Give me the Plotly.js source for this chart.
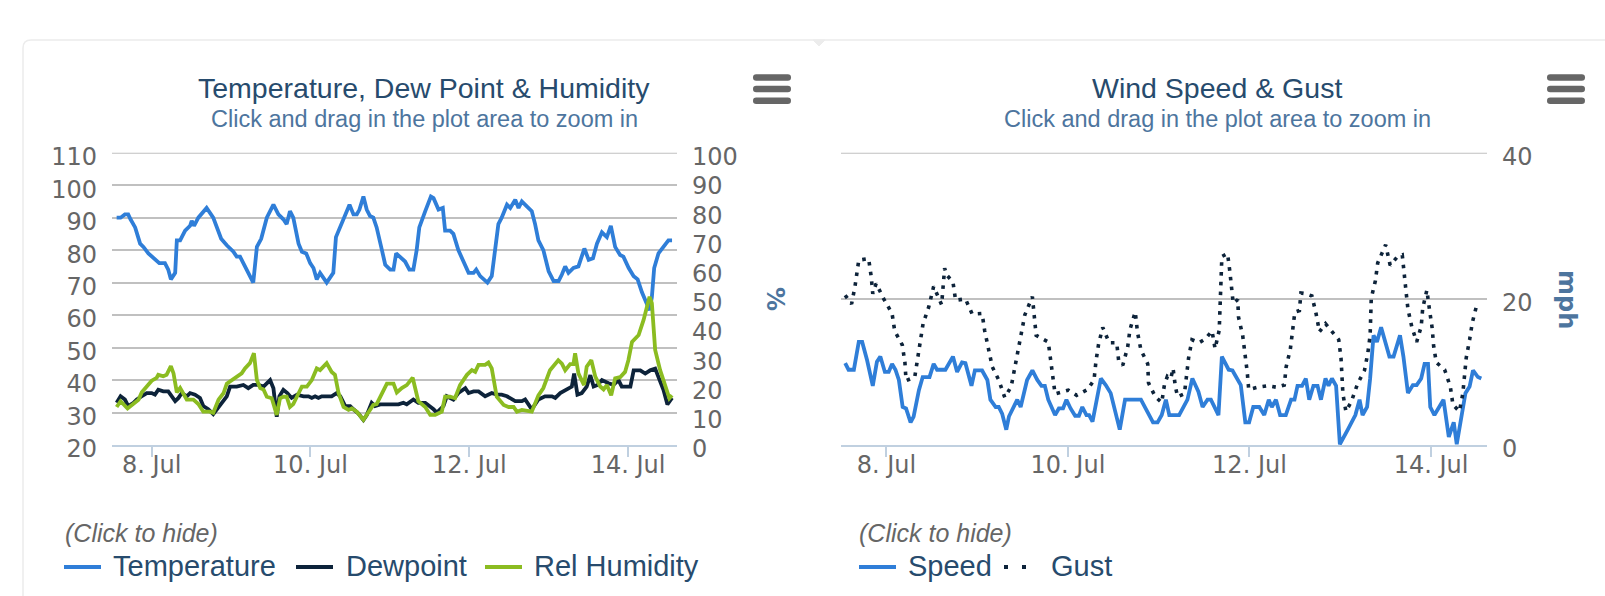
<!DOCTYPE html>
<html>
<head>
<meta charset="utf-8">
<script src="https://cdn.plot.ly/plotly-3.0.1.min.js"></script>
<style>
html,body{margin:0;padding:0;background:#fff;}
#chart{width:1605px;height:596px;}
</style>
</head>
<body>
<div id="chart"></div>
<script>
// ---- data (hours after 8 Jul 00:00) ----
const tempHours = [-10.6,-9.4,-8.1,-7.1,-6.4,-5.0,-3.5,-2.5,-1.0,1.0,2.3,4.0,5.0,5.8,7.1,7.6,8.6,10.1,11.6,12.1,12.8,14.1,16.6,18.6,19.7,21.0,22.7,24.7,25.7,26.7,28.2,29.7,30.7,31.8,33.1,34.8,36.8,38.3,39.8,40.8,41.8,42.8,44.4,45.4,46.7,47.9,48.9,49.9,50.9,52.9,54.9,55.7,57.0,58.0,59.8,61.0,62.0,62.8,64.0,65.0,66.0,67.0,68.0,69.6,70.6,72.1,73.1,73.9,75.1,76.6,77.9,79.1,80.1,80.9,82.7,84.4,85.2,86.7,88.0,88.7,90.2,91.2,92.7,94.3,95.8,97.3,98.1,99.3,101.5,102.8,104.8,105.8,107.4,108.4,109.9,110.9,111.9,113.4,114.9,115.9,116.9,118.4,120.0,121.5,123.0,124.0,125.0,126.0,127.5,129.0,130.0,130.8,132.1,133.4,134.6,136.1,137.6,138.8,140.1,141.6,142.6,144.2,145.7,146.9,148.2,149.7,150.5,151.2,151.9,153.2,154.7,156.2,157.3];
const tempValues = [90,90,91,91,89.5,87,82,81,79,77,76,76,74,71,73,83,83,86,87.5,89,87.5,90,93,90,87,83.5,81.5,79.5,78,78,75,72,70,81,83.5,90,94,91,89.5,88,92,90,82,79.5,79,76,74.5,71,73,70,73,84,87,90,94,91,91,92.5,96.5,92.5,90.5,90,87,80,75.5,74,74,79,78,76.5,74,74,80,87,92,96.5,96,92.5,93,86,86,85,80,76.5,73,73,74,72,70,72,88,90,94,93,95.5,93,95,93.5,92,88,83,80,73.5,70.5,70.5,72.5,75,73,74.5,75,78,80.5,77,77.5,82,85.5,84,87.5,81,78.5,78,74.5,72,71,67,63.5,61.5,65.5,74.5,79,81,83,83];

const dewHours = [-10.6,-9.4,-8.1,-7.1,-5.5,-4.5,-3.0,-1.5,0,1.0,2.0,3.5,5.0,6.0,7.1,8.1,9.1,10.6,11.6,13.1,14.6,15.6,17.1,18.6,19.7,21.2,22.7,23.7,25.7,27.7,29.2,30.7,32.3,33.8,34.8,35.8,36.8,37.8,38.6,39.8,41.0,42.3,43.9,45.9,47.4,48.4,49.4,50.4,51.4,52.9,54.4,55.9,57.0,58.5,60.0,61.0,62.5,64.0,65.0,66.5,67.5,69.1,71.1,73.1,74.6,76.1,77.1,79.1,80.6,82.7,84.2,85.2,86.2,88.2,89.2,91.2,92.7,94.8,95.8,97.3,98.8,100.8,102.8,104.3,105.8,107.4,109.9,111.9,112.9,114.9,116.9,118.9,121.0,122.0,123.5,125.5,127.0,127.7,128.7,130.0,131.5,132.6,133.6,134.8,136.1,138.1,139.6,141.1,142.1,143.6,144.7,145.7,147.7,149.2,150.7,152.2,153.7,154.7,155.9,157.3];
const dewValues = [33,35,34,32,33,34,35,36,36,35.5,37,36.5,36.5,35,33.5,34.5,36,35,36,35.5,34.5,32,31,29.5,31,33,35,38,38,38.5,37.5,38.5,38.5,38,39,40,37.5,28.7,35,37,36,34.5,35.5,35,35,34.5,35,34.5,35,35,35,36,35,32,32,31,29.7,27.7,29.2,33,32,32.5,32.5,32.5,32.5,33,32.5,34,33,33,32,31,30,32,35,34,36,37.5,36,36.5,36.5,35,36,35.5,35.5,35,33.5,33.5,34,31,34,35,35,34.5,36,37,38,42,35.5,36,38,41.5,38,38.5,40,39,38.5,40,38,38,38,43,43,42,43,43.5,40,37,32.5,34.5];

const humHours = [-10.6,-9.4,-7.3,-5.5,-4.0,-3.0,-1.5,0,1.5,2.0,3.5,4.5,5.8,6.6,7.6,8.6,10.6,12.6,14.1,15.6,17.6,18.6,20.2,21.7,22.7,24.7,26.2,27.2,28.2,29.7,30.9,31.8,32.8,33.8,34.8,36.3,37.8,38.8,39.8,40.8,41.8,42.8,44.4,45.4,46.9,48.4,49.9,50.9,52.9,54.4,55.4,56.5,58.0,59.5,60.5,62.0,64.0,65.5,67.0,68.0,69.6,71.1,73.1,74.1,75.6,77.1,78.9,80.6,82.7,84.2,85.7,87.7,88.7,90.2,91.7,93.2,95.3,96.8,97.8,98.8,100.8,101.8,102.8,104.3,106.4,107.9,109.4,110.4,111.9,113.4,114.9,116.9,118.4,120.4,122.9,124.0,125.0,126.5,127.5,128.0,129.0,130.7,131.5,132.9,134.1,135.6,136.6,137.6,138.9,140.1,141.6,143.1,144.1,145.2,146.2,147.2,148.7,149.9,150.5,151.2,152.2,153.7,155.2,156.5,157.3];
const humValues = [13,15,12.5,14,15.5,18,20,22,23,24,23.5,24,27,24.5,18,19.5,15.5,15.5,14,11.4,11.4,11,15.5,17.7,21,22.5,24,24.5,26.2,28,31.4,22.2,19.5,19,16.5,16,10.3,16,16.5,16.5,13,14,17.7,20,20,22.2,26.2,25.6,28,25,24,17.7,13,12,12.5,11.4,8.6,11.4,13.7,14,17.7,21,21,18,19.5,20.5,23,15,13,10.3,10.3,11.4,16.5,16.5,16,20.5,24,25.6,25,27.4,27.4,28.2,26.2,16.5,13.7,13,13,11.4,12,11.8,11.4,17,19.5,25.6,29,27.8,25.6,27.7,27.7,31.4,24.5,20.5,26.8,29,23.4,20,19,20.5,17,22.8,23.2,25,29,35.3,36.5,37.6,42.8,48.5,50.7,48.5,32.5,25.6,20,16,17];

const speedHours = [-10.9,-10.0,-8.6,-7.3,-6.4,-5.1,-3.6,-2.5,-1.6,-0.4,0.6,1.5,2.4,3.3,4.3,5.2,6.4,7.2,8.6,9.6,11.4,12.5,13.4,15.6,17.6,18.7,20.0,20.9,22.5,23.4,25.3,26.7,27.5,28.9,29.7,30.6,31.7,32.4,34.6,35.5,37.2,38.6,39.9,41.0,41.9,42.8,44.6,45.6,46.7,47.6,48.7,49.9,50.9,51.8,52.9,53.6,54.5,56.7,58.0,59.3,61.7,63.1,67.3,69.3,70.5,71.7,72.8,73.9,74.8,77.4,79.6,80.9,82.5,83.6,84.9,85.8,87.8,88.7,90.5,91.5,93.7,94.9,95.9,97.0,98.6,99.9,101.1,101.9,103.0,104.1,105.6,107.0,107.9,108.7,109.9,110.9,111.8,112.9,114.0,114.9,116.1,116.9,117.8,118.9,119.9,122.0,124.0,125.1,125.9,127.1,127.9,128.8,129.7,130.8,132.0,133.0,134.1,135.8,136.7,137.9,139.2,140.2,141.4,142.3,143.2,143.8,144.9,146.2,147.3,148.7,150.0,150.8,152.0,153.1,154.2,155.1,156.4,157.3];
const speedValues = [11.2,10.3,10.3,14.1,14.1,11.6,8.1,11.4,12.1,10,10,11.1,10.3,8.9,5.2,5,3.1,3.9,7.5,9.3,9.3,11.1,10.3,10.3,12.1,10,11.3,11.2,8.1,10.2,10.2,8.9,6.2,5.2,5.2,4.3,2.1,3.9,6.2,5.2,8.9,10.2,8.9,8.1,8.1,6.2,4.1,5,5,6.2,5,4,4,5.2,4.1,4.1,3.2,9.1,8.2,7.1,2.1,6.2,6.2,4.1,3.1,3.1,4.1,6.2,4.1,4.1,6.2,9.1,7.3,5.2,6.2,6.2,4.1,12.1,10.3,10.2,8.2,3.1,3.1,5.2,5.2,4.1,6.2,5.2,6.2,4.1,4.1,6.2,6.2,8.1,8.1,9.1,6.2,8.1,8.1,6.2,9.1,8.1,9.1,8.1,0.1,2.1,4.1,6.2,4.1,5.2,9.1,15,14.1,16.1,14.1,12.1,12.1,15,12.1,7.1,8.2,8.2,9.1,11.1,11.1,5.2,4.1,5.2,6.2,1.1,3.1,0.1,4.1,7.1,8,10.2,9.3,9.1];

const gustHours = [-10.9,-9.2,-8.3,-7.3,-4.7,-4.0,-3.6,-2.7,-0.7,1.5,2.2,4.2,4.9,5.2,7.5,8.2,9.0,9.7,11.2,12.5,14.6,15.0,15.4,15.9,17.6,18.3,20.9,22.7,25.3,26.0,26.9,28.0,29.7,31.3,33.0,33.9,34.6,35.7,36.6,38.6,39.1,39.6,42.8,43.4,44.0,44.6,48.1,50.3,53.2,54.9,55.4,56.1,57.2,58.9,60.9,61.4,62.5,63.8,64.4,65.8,66.4,67.3,69.1,69.3,71.1,72.8,73.5,74.3,75.2,75.8,76.4,77.0,78.8,79.4,79.9,80.8,82.7,84.3,86.1,86.9,88.0,88.7,90.2,90.8,91.3,91.7,92.9,93.1,94.2,94.9,95.4,95.8,98.1,100.8,103.2,105.2,105.7,106.8,107.4,108.0,109.2,109.6,110.9,112.5,113.6,114.5,116.1,118.0,119.6,120.2,120.5,120.7,121.5,122.9,124.6,126.4,127.3,127.9,128.2,129.3,129.9,132.0,133.2,135.0,136.4,137.0,137.4,137.9,138.9,140.2,141.4,141.8,142.9,143.6,144.3,144.7,145.4,147.6,149.1,149.8,151.5,152.4,152.9,153.3,154.2,154.9,156.1];
const gustValues = [20.5,19.3,21.7,25.3,25.5,23,20.7,22.1,20,18,15.6,13.7,11.3,8.8,9.3,11.6,14.1,16.6,18.9,21.7,19.2,21.7,24.2,23.3,22.3,19.8,20,17.9,18,15.6,13.2,10.7,8.9,6.5,8,10.4,12.9,15.3,17.8,20.3,17.6,15,14.1,11.7,9.3,7,7.5,6.8,7.6,8.9,11.4,13.8,16.1,14,14,11.6,10.9,13.4,15.8,18.2,15.4,13,11.1,8.5,6.6,5.8,8.2,9.4,9.1,10.5,8,6.6,7,9.4,11.9,14.4,14,14.5,15.6,13.2,15.7,25.8,26.2,23.8,21.3,19.4,19.9,17.5,15,12.5,10,7.6,7.9,8.1,7.9,8.2,10.7,13.1,15.5,18.2,18.4,20.8,20.7,20.4,18,15.5,16.6,15.4,14.4,11.9,9.3,7,4.6,5.9,8.4,10.2,12.6,15,20.1,22.5,24.9,27.4,24.6,25.7,26,23.5,21,18.6,16.2,14.1,16.2,18.7,21.2,18.5,16,13.5,11.3,10.3,8,5.5,4.6,7,9.4,11.9,14.4,16.7,19.2];

const xRangeHours = [-12.0, 158.8];
const xTick0 = '2019-07-08';

// ---- helpers ----
const BASE = Date.UTC(2019, 6, 8);
function toDate(h){
  const d = new Date(BASE + Math.round(h*60)*60000);
  return d.toISOString().slice(0,16).replace('T',' ');
}
const W = 1605, H = 596;
const PX = p => p / W;
const PY = p => 1 - p / H;

const C = {
  title: '#274b6d', sub: '#4d759e', label: '#666666',
  grid: '#C0C0C0', axis: '#C0D0E0',
  temp: '#2f7ed8', dew: '#0d233a', hum: '#8bbc21'
};
const TXT = 'Liberation Sans, Arial, sans-serif';
const NUM = 'DejaVu Sans, Verdana, sans-serif';
const GUST_DASH = '3.6px,6.2px';
const LW = 3.8;

const traces = [
  {x: tempHours.map(toDate), y: tempValues, name: 'Temperature', type: 'scatter', mode: 'lines',
   xaxis: 'x', yaxis: 'y', line: {color: C.temp, width: LW}},
  {x: dewHours.map(toDate), y: dewValues, name: 'Dewpoint', type: 'scatter', mode: 'lines',
   xaxis: 'x', yaxis: 'y', line: {color: C.dew, width: LW}},
  {x: humHours.map(toDate), y: humValues, name: 'Rel Humidity', type: 'scatter', mode: 'lines',
   xaxis: 'x', yaxis: 'y2', line: {color: C.hum, width: LW}},
  {x: speedHours.map(toDate), y: speedValues, name: 'Speed', type: 'scatter', mode: 'lines',
   xaxis: 'x2', yaxis: 'y3', line: {color: C.temp, width: LW}},
  {x: gustHours.map(toDate), y: gustValues, name: 'Gust', type: 'scatter', mode: 'lines',
   xaxis: 'x2', yaxis: 'y3', line: {color: C.dew, width: 3.6, dash: GUST_DASH}}
];

const yDom = [PY(445), PY(152.7)];
const xRange = xRangeHours.map(toDate);

function xAxis(domain, anchor){
  return {
    domain: domain, anchor: anchor, type: 'date', range: xRange,
    tick0: xTick0, dtick: 2*86400000, tickformat: '%-d. %b',
    showgrid: false, zeroline: false,
    showline: true, linecolor: C.axis, linewidth: 2,
    ticks: 'outside', ticklen: 10, tickwidth: 2, tickcolor: C.axis,
    ticklabelstandoff: -13,
    tickfont: {family: NUM, size: 24, color: C.label},
    fixedrange: true
  };
}
function yAxisBase(){
  return {
    zeroline: false, showline: false, ticks: '', ticklabelstandoff: 14, ticklabelshift: 4,
    tickfont: {family: NUM, size: 24, color: C.label}, fixedrange: true
  };
}

const layout = {
  width: W, height: H,
  margin: {l: 0, r: 0, t: 0, b: 0},
  paper_bgcolor: '#ffffff', plot_bgcolor: '#ffffff',
  showlegend: false,
  xaxis: xAxis([PX(112), PX(677)], 'y'),
  xaxis2: xAxis([PX(841), PX(1487)], 'y3'),
  yaxis: Object.assign(yAxisBase(), {
    domain: yDom, anchor: 'x', side: 'left', range: [20, 110], dtick: 10, tick0: 0,
    showgrid: true, gridcolor: C.grid, gridwidth: 2
  }),
  yaxis2: Object.assign(yAxisBase(), {
    overlaying: 'y', anchor: 'x', side: 'right', range: [0, 100], dtick: 10, tick0: 0,
    showgrid: false
  }),
  yaxis3: Object.assign(yAxisBase(), {
    domain: yDom, anchor: 'x2', side: 'right', range: [0, 40], dtick: 20, tick0: 0,
    showgrid: true, gridcolor: C.grid, gridwidth: 2
  }),
  annotations: [],
  shapes: []
};

// top grid lines (Plotly skips grid lines lying on the plot edge)
layout.shapes.push({type: 'line', xref: 'x domain', yref: 'y', x0: 0, x1: 1, y0: 110, y1: 110,
  layer: 'below', line: {color: C.grid, width: 2}});
layout.shapes.push({type: 'line', xref: 'x2 domain', yref: 'y3', x0: 0, x1: 1, y0: 40, y1: 40,
  layer: 'below', line: {color: C.grid, width: 2}});

function ann(text, x, y, font, extra){
  layout.annotations.push(Object.assign({text: text, x: PX(x), y: PY(y), xref: 'paper', yref: 'paper',
    xanchor: 'center', yanchor: 'middle', showarrow: false, font: font}, extra || {}));
}
// titles / subtitles
ann('Temperature, Dew Point & Humidity', 424, 88, {family: TXT, size: 28.5, color: C.title});
ann('Click and drag in the plot area to zoom in', 424, 119, {family: TXT, size: 23.5, color: C.sub});
ann('Wind Speed & Gust', 1217, 88, {family: TXT, size: 28.5, color: C.title});
ann('Click and drag in the plot area to zoom in', 1217, 119, {family: TXT, size: 23.5, color: C.sub});
// axis titles
ann('<b>%</b>', 775, 299, {family: NUM, size: 24, color: C.sub}, {textangle: 90});
ann('<b>mph</b>', 1567, 299, {family: NUM, size: 24, color: C.sub}, {textangle: 90});

// legends (drawn)
const legendTitleFont = {family: TXT, size: 25, color: C.label, style: 'italic'};
const legendFont = {family: TXT, size: 29, color: C.title};
const legendItems = [
  {name: 'Temperature', color: C.temp, x0: 64, x1: 101, tx: 111, dash: null},
  {name: 'Dewpoint', color: C.dew, x0: 296, x1: 333, tx: 344, dash: null},
  {name: 'Rel Humidity', color: C.hum, x0: 485, x1: 522, tx: 532, dash: null},
  {name: 'Speed', color: C.temp, x0: 859, x1: 896, tx: 906, dash: null},
  {name: 'Gust', color: C.dew, x0: 1003, x1: 1040, tx: 1049, dash: 'dots'}
];
ann('(Click to hide)', 63, 533, legendTitleFont, {xanchor: 'left'});
ann('(Click to hide)', 857, 533, legendTitleFont, {xanchor: 'left'});
const LEG_Y = 567;
legendItems.forEach(it => {
  if (it.dash === 'dots') {
    [it.x0 + 3, it.x0 + 21].forEach(cx => {
      layout.shapes.push({type: 'rect', xref: 'paper', yref: 'paper',
        x0: PX(cx - 2), x1: PX(cx + 2), y0: PY(LEG_Y + 2), y1: PY(LEG_Y - 2),
        fillcolor: it.color, line: {width: 0}});
    });
  } else {
    layout.shapes.push({type: 'line', xref: 'paper', yref: 'paper',
      x0: PX(it.x0), x1: PX(it.x1), y0: PY(LEG_Y), y1: PY(LEG_Y),
      line: {color: it.color, width: 4}});
  }
  ann(it.name, it.tx, LEG_Y - 1, legendFont, {xanchor: 'left'});
});

// container borders
const bc = '#ececec';
layout.shapes.push({type: 'path', xref: 'paper', yref: 'paper', layer: 'below',
  path: `M ${PX(23)},${PY(600)} L ${PX(23)},${PY(48)} Q ${PX(23)},${PY(40)} ${PX(31)},${PY(40)} L ${PX(1610)},${PY(40)}`,
  line: {color: bc, width: 1.5}});
layout.shapes.push({type: 'path', xref: 'paper', yref: 'paper', layer: 'below',
  path: `M ${PX(813)},${PY(40)} L ${PX(819)},${PY(46)} L ${PX(825)},${PY(40)} Z`,
  fillcolor: bc, line: {color: bc, width: 1}});

// menu (hamburger) icons
function bar(x0, x1, yc){
  const h = 3.2, r = 3.2;
  return {type: 'path', xref: 'paper', yref: 'paper', fillcolor: '#666666', line: {width: 0},
    path: `M ${PX(x0+r)},${PY(yc-h)} L ${PX(x1-r)},${PY(yc-h)} Q ${PX(x1)},${PY(yc-h)} ${PX(x1)},${PY(yc)} Q ${PX(x1)},${PY(yc+h)} ${PX(x1-r)},${PY(yc+h)} L ${PX(x0+r)},${PY(yc+h)} Q ${PX(x0)},${PY(yc+h)} ${PX(x0)},${PY(yc)} Q ${PX(x0)},${PY(yc-h)} ${PX(x0+r)},${PY(yc-h)} Z`};
}
[77.5, 89, 100.8].forEach(yc => {
  layout.shapes.push(bar(753, 791, yc));
  layout.shapes.push(bar(1547, 1585, yc));
});

Plotly.newPlot('chart', traces, layout, {displayModeBar: false, responsive: false});
</script>
</body>
</html>
